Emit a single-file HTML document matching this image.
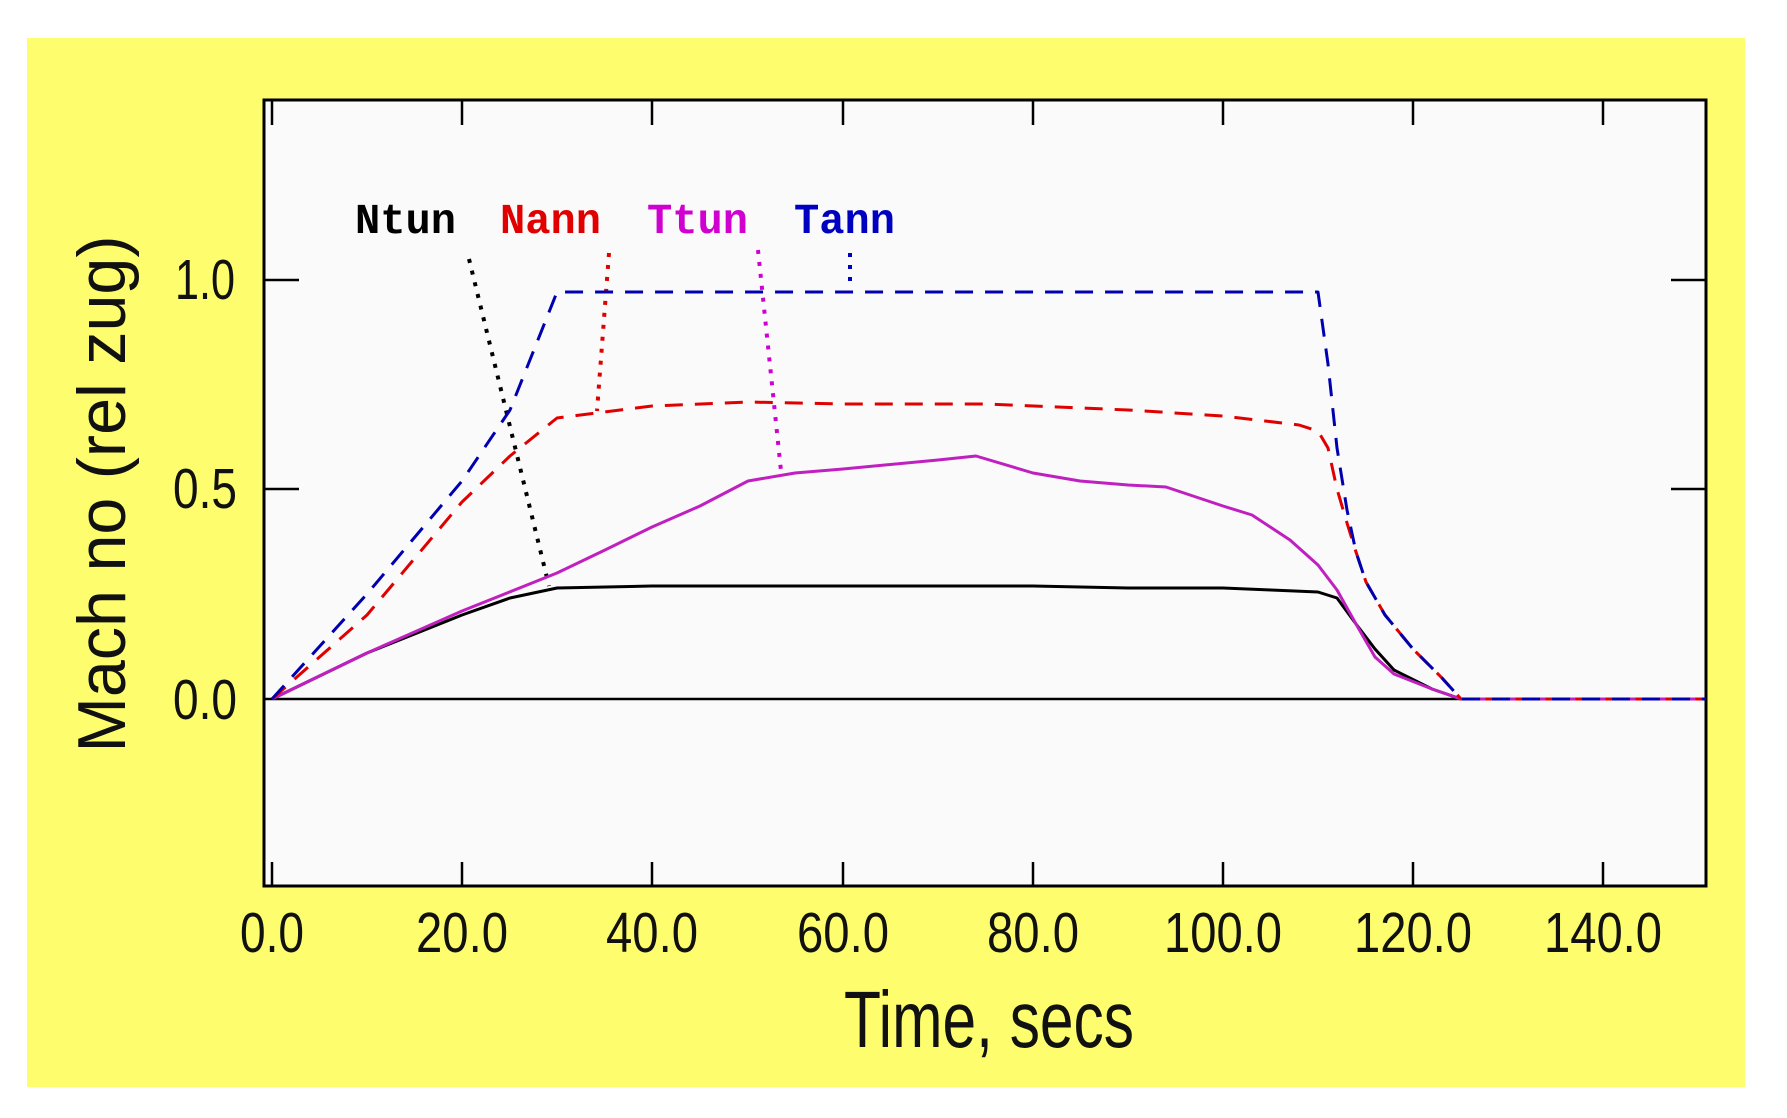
<!DOCTYPE html>
<html><head><meta charset="utf-8"><style>html,body{margin:0;padding:0;background:#fff}svg{display:block}</style></head>
<body>
<svg width="1787" height="1118" viewBox="0 0 1787 1118" xmlns="http://www.w3.org/2000/svg">
<rect x="0" y="0" width="1787" height="1118" fill="#fff"/>
<rect x="27" y="38" width="1718" height="1049" fill="#fdfd6e"/>
<rect x="264" y="100" width="1442" height="786" fill="#fafafa" stroke="#000" stroke-width="3"/>
<g stroke="#000" stroke-width="2.5">
<line x1="272" y1="886" x2="272" y2="862"/><line x1="462" y1="886" x2="462" y2="862"/><line x1="652" y1="886" x2="652" y2="862"/><line x1="843" y1="886" x2="843" y2="862"/><line x1="1033" y1="886" x2="1033" y2="862"/><line x1="1223" y1="886" x2="1223" y2="862"/><line x1="1413" y1="886" x2="1413" y2="862"/><line x1="1603" y1="886" x2="1603" y2="862"/>
<line x1="272" y1="100" x2="272" y2="125"/><line x1="462" y1="100" x2="462" y2="125"/><line x1="652" y1="100" x2="652" y2="125"/><line x1="843" y1="100" x2="843" y2="125"/><line x1="1033" y1="100" x2="1033" y2="125"/><line x1="1223" y1="100" x2="1223" y2="125"/><line x1="1413" y1="100" x2="1413" y2="125"/><line x1="1603" y1="100" x2="1603" y2="125"/>
<line x1="264" y1="280" x2="299" y2="280"/><line x1="264" y1="489" x2="299" y2="489"/>
<line x1="1706" y1="280" x2="1671" y2="280"/><line x1="1706" y1="489" x2="1671" y2="489"/>
</g>
<line x1="264" y1="699" x2="1706" y2="699" stroke="#000" stroke-width="2.5"/>
<g font-family="Liberation Sans, Arial, sans-serif" font-size="57" fill="#111" text-anchor="middle">
<text x="272" y="952" textLength="64" lengthAdjust="spacingAndGlyphs">0.0</text>
<text x="462" y="952" textLength="92" lengthAdjust="spacingAndGlyphs">20.0</text>
<text x="652" y="952" textLength="92" lengthAdjust="spacingAndGlyphs">40.0</text>
<text x="843" y="952" textLength="92" lengthAdjust="spacingAndGlyphs">60.0</text>
<text x="1033" y="952" textLength="92" lengthAdjust="spacingAndGlyphs">80.0</text>
<text x="1223" y="952" textLength="118" lengthAdjust="spacingAndGlyphs">100.0</text>
<text x="1413" y="952" textLength="118" lengthAdjust="spacingAndGlyphs">120.0</text>
<text x="1603" y="952" textLength="118" lengthAdjust="spacingAndGlyphs">140.0</text>
<text x="205" y="299" textLength="60" lengthAdjust="spacingAndGlyphs">1.0</text>
<text x="205" y="508" textLength="64" lengthAdjust="spacingAndGlyphs">0.5</text>
<text x="205" y="719" textLength="64" lengthAdjust="spacingAndGlyphs">0.0</text>
</g>
<text x="989" y="1047" font-family="Liberation Sans, Arial, sans-serif" font-size="80" fill="#111" text-anchor="middle" textLength="290" lengthAdjust="spacingAndGlyphs">Time, secs</text>
<text transform="translate(125,494) rotate(-90)" font-family="Liberation Sans, Arial, sans-serif" font-size="68" fill="#111" text-anchor="middle" textLength="517" lengthAdjust="spacingAndGlyphs">Mach no (rel zug)</text>
<g font-family="Liberation Mono, monospace" font-weight="bold" font-size="43">
<text x="355" y="233" fill="#000" textLength="101" lengthAdjust="spacingAndGlyphs">Ntun</text>
<text x="500" y="233" fill="#e00000" textLength="101" lengthAdjust="spacingAndGlyphs">Nann</text>
<text x="647" y="233" fill="#d000d0" textLength="101" lengthAdjust="spacingAndGlyphs">Ttun</text>
<text x="794" y="233" fill="#0000c0" textLength="101" lengthAdjust="spacingAndGlyphs">Tann</text>
</g>
<g stroke-width="4" stroke-dasharray="4 8" fill="none">
<line x1="469" y1="259" x2="549" y2="586" stroke="#000"/>
<line x1="609" y1="253" x2="597" y2="411" stroke="#e00000"/>
<line x1="758" y1="250" x2="781" y2="471" stroke="#d000d0"/>
<line x1="850" y1="253" x2="850" y2="287" stroke="#0000c0"/>
</g>
<g fill="none" stroke-width="3" stroke-linejoin="round">
<polyline stroke="#000" points="272,699 367,653 462,615 510,598 557,588 652,586 843,586 1033,586 1128,588 1223,588 1271,590 1318,592 1337,598 1356,624 1375,649 1394,670 1432,689 1461,699 1706,699"/>
<polyline stroke="#c020c0" points="272,699 367,653 462,611 557,573 605,550 652,527 700,506 748,481 795,473 843,469 938,460 976,456 1033,473 1080,481 1128,485 1166,487 1223,506 1252,515 1290,540 1318,565 1337,590 1356,624 1375,657 1394,674 1432,689 1461,699 1706,699"/>
<polyline stroke="#e00000" stroke-dasharray="18 12" points="272,699 367,615 462,502 510,456 557,418 652,406 748,402 843,404 986,404 1128,410 1223,416 1299,425 1318,431 1328,448 1337,489 1347,523 1356,552 1366,582 1385,615 1413,649 1442,678 1461,699 1706,699"/>
<polyline stroke="#0000b0" stroke-dasharray="18 12" points="272,699 367,594 462,481 510,410 557,292 652,292 843,292 1033,292 1318,292 1328,364 1337,448 1347,510 1356,552 1366,582 1385,615 1413,649 1442,678 1461,699 1706,699"/>
</g>
</svg>
</body></html>
